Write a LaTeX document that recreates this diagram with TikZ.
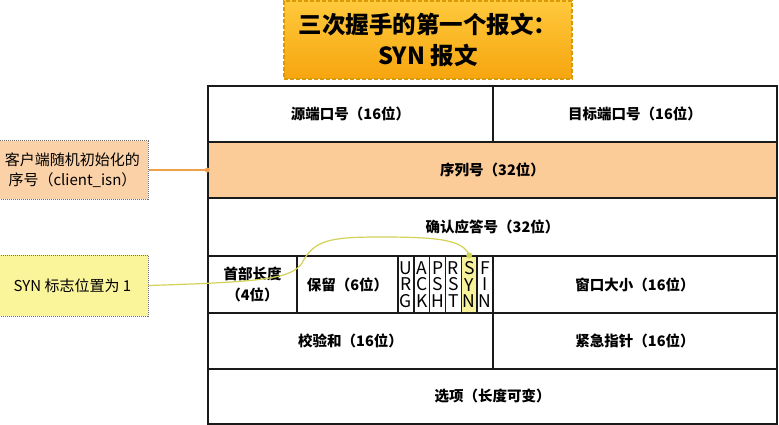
\documentclass[tikz,border=0pt]{standalone}
\usepackage{fontspec}
\newfontfamily\cjk{Noto Sans CJK SC}
\usepackage{tikz}
\definecolor{ink}{HTML}{1A1A1A}
\definecolor{seqpeach}{HTML}{FBCB98}
\definecolor{notepeach}{HTML}{FBD2A8}
\definecolor{noteyellow}{HTML}{FAF49B}
\definecolor{synyellow}{HTML}{F9F29C}
\definecolor{notegrey}{HTML}{6E6E6E}
\definecolor{linkorange}{HTML}{F0A04B}
\definecolor{linkolive}{HTML}{D2D257}
\definecolor{titletop}{HTML}{FFC93C}
\definecolor{titlebot}{HTML}{F6A50E}
\definecolor{titleedge}{HTML}{D99A0A}
\newcommand{\cellfont}{\cjk\bfseries\fontsize{14.5}{21}\selectfont}
\newcommand{\flagfont}{\cjk\fontsize{17.5}{16.5}\selectfont}
\newcommand{\notefont}{\cjk\fontsize{15}{20}\selectfont}
\newcommand{\titlefont}{\cjk\bfseries\fontsize{23.5}{31}\selectfont}

\begin{document}
\begin{tikzpicture}[
  x=1pt,y=-1pt,
  cell/.style={draw=ink,line width=1.4pt,fill=white,inner sep=0pt,align=center,font=\cellfont},
  flag/.style={cell,minimum width=15.83pt,minimum height=57pt,font=\flagfont},
  note/.style={draw=notegrey,densely dotted,line width=1pt,inner sep=0pt,align=center,font=\notefont},
  titlebox/.style={draw=titleedge,dash pattern=on 4pt off 2pt,line width=1.2pt,top color=titletop,bottom color=titlebot,
    minimum width=288pt,minimum height=78pt,inner sep=0pt,align=center,font=\titlefont},
  link/.style={line width=1.2pt}
]
\useasboundingbox (0,0) rectangle (779,425);
\node[titlebox] (title) at (428,40) {三次握手的第一个报文：\\SYN 报文};
% TCP header
\node[cell,minimum width=285pt,minimum height=56pt] (src) at (350.5,114) {源端口号（16位）};
\node[cell,minimum width=284pt,minimum height=56pt] (dst) at (635,114) {目标端口号（16位）};
\node[cell,fill=seqpeach,minimum width=569pt,minimum height=56pt] (seq) at (492.5,170) {序列号（32位）};
\node[cell,minimum width=569pt,minimum height=58pt] (ack) at (492.5,227) {确认应答号（32位）};
\node[cell,minimum width=89pt,minimum height=57pt] (hlen) at (252.5,284.5) {首部长度\\（4位）};
\node[cell,minimum width=101pt,minimum height=57pt] (rsv) at (347.5,284.5) {保留（6位）};
\foreach \n/\a/\b/\c/\col [count=\i from 0] in {urg/U/R/G/white,ackf/A/C/K/white,psh/P/S/H/white,rst/R/S/T/white,syn/S/Y/N/synyellow,fin/F/I/N/white}
  \node[flag,fill=\col] (\n) at (405.92+15.83*\i,284.5) {\a\\\b\\\c};
\node[cell,minimum width=284pt,minimum height=57pt] (win) at (635,284.5) {窗口大小（16位）};
\node[cell,minimum width=285pt,minimum height=56pt] (csum) at (350.5,341) {校验和（16位）};
\node[cell,minimum width=284pt,minimum height=56pt] (urgp) at (635,341) {紧急指针（16位）};
\node[cell,minimum width=569pt,minimum height=55pt] (opt) at (492.5,396.5) {选项（长度可变）};
% notes
\node[note,fill=notepeach,minimum width=151pt,minimum height=58pt] (isnnote) at (72.5,170) {客户端随机初始化的\\序号（client\_isn）};
\node[note,fill=noteyellow,minimum width=151pt,minimum height=61pt] (synnote) at (72.5,285.5) {SYN 标志位置为 1};
\draw[link,draw=linkorange] (isnnote.east) -- (seq.west);
\fill[linkorange] (seq.west) circle (2.5pt);
\draw[link,draw=linkolive] (synnote.east) .. controls (260,282) and (292,279) .. (302,263)
  .. controls (314,240) and (330,237) .. (380,237) .. controls (440,237) and (463,240) .. (syn.north);
\fill[linkolive] (syn.north) circle (3pt);
\end{tikzpicture}
\end{document}
